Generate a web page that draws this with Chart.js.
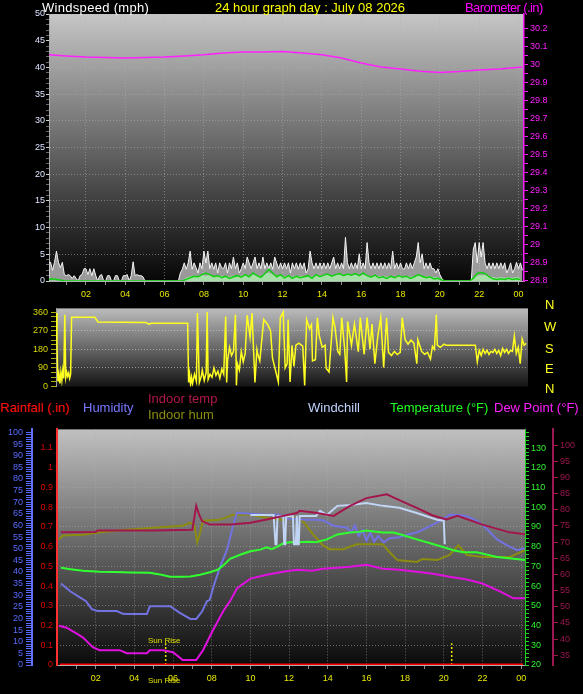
<!DOCTYPE html>
<html>
<head>
<meta charset="utf-8">
<script src="https://cdn.jsdelivr.net/npm/chart.js@4.4.1/dist/chart.umd.min.js"></script>
<style>
body { margin: 0; background: #000; width: 583px; height: 694px; overflow: hidden; position: relative; font-family: "Liberation Sans", Arial, sans-serif; }
canvas { position: absolute; left: 0; }
.lbl { position: absolute; font-size: 13px; line-height: 14px; white-space: nowrap; }
.sun { position: absolute; font-size: 8px; line-height: 9px; color: #e0e000; white-space: nowrap; }
</style>
</head>
<body>
<canvas id="windChart" width="583" height="300" style="top:0"></canvas>
<canvas id="dirChart" width="583" height="95" style="top:300px"></canvas>
<canvas id="weatherChart" width="583" height="274" style="top:420px"></canvas>

<div class="lbl" style="left:42px;top:1px;color:#ffffff;letter-spacing:0.3px">Windspeed (mph)</div>
<div class="lbl" style="left:215px;top:1px;color:#ffff00">24 hour graph day : July 08 2026</div>
<div class="lbl" style="left:465px;top:1px;color:#ff00ff;letter-spacing:-0.6px">Barometer (.in)</div>

<div class="lbl" style="left:545px;top:298px;color:#ffff20">N</div>
<div class="lbl" style="left:544px;top:320px;color:#ffff20">W</div>
<div class="lbl" style="left:545px;top:342px;color:#ffff20">S</div>
<div class="lbl" style="left:545px;top:362px;color:#ffff20">E</div>
<div class="lbl" style="left:545px;top:382px;color:#ffff20">N</div>

<div class="lbl" style="left:0px;top:401px;color:#ff1010">Rainfall (.in)</div>
<div class="lbl" style="left:83px;top:401px;color:#7878ff">Humidity</div>
<div class="lbl" style="left:148px;top:392px;color:#b0184a">Indoor temp</div>
<div class="lbl" style="left:148px;top:408px;color:#8c8c10">Indoor hum</div>
<div class="lbl" style="left:308px;top:401px;color:#c0d4ff">Windchill</div>
<div class="lbl" style="left:390px;top:401px;color:#20ff20">Temperature (°F)</div>
<div class="lbl" style="left:494px;top:401px;color:#ff20ff">Dew Point (°F)</div>

<div class="sun" style="left:148px;top:636px">Sun Rise</div>
<div class="sun" style="left:148px;top:676px">Sun Rise</div>

<script>
// ---- tick labels ----
const hourTicks = [2, 4, 6, 8, 10, 12, 14, 16, 18, 20, 22, 24];
const hourLabels = ['02', '04', '06', '08', '10', '12', '14', '16', '18', '20', '22', '00'];
const windTicks = [0, 5, 10, 15, 20, 25, 30, 35, 40, 45, 50];
const baroTicks = [28.8, 28.9, 29, 29.1, 29.2, 29.3, 29.4, 29.5, 29.6, 29.7, 29.8, 29.9, 30, 30.1, 30.2];
const dirTicks = [0, 90, 180, 270, 360];
const humTicks = [0, 5, 10, 15, 20, 25, 30, 35, 40, 45, 50, 55, 60, 65, 70, 75, 80, 85, 90, 95, 100];
const rainTicks = [0, 0.1, 0.2, 0.3, 0.4, 0.5, 0.6, 0.7, 0.8, 0.9, 1, 1.1];
const tempTicks = [20, 30, 40, 50, 60, 70, 80, 90, 100, 110, 120, 130];
const indoorTicks = [35, 40, 45, 50, 55, 60, 65, 70, 75, 80, 85, 90, 95, 100];

// ---- wind speed (mph), every 0.1 h from 0.1 h ----
const gustStart = 0.1, gustStep = 0.1;
const gustMph = [
  3.5, 3.5, 2.0, 3.5, 5.6, 3.5, 2.5, 3.5, 1.2,
  1.0, 1.2, 1.0, 0.5, 1.0, 0.5, 0.0, 1.0, 1.2, 2.3,
  2.3, 1.2, 2.3, 1.0, 2.3, 1.0, 0.0, 1.0, 1.2, 0.0,
  0.0, 1.0, 1.0, 0.0, 0.0, 1.0, 1.0, 0.0, 0.0, 1.0,
  1.0, 1.2, 0.0, 1.0, 3.6, 1.0, 1.2, 1.0, 1.0, 0.8,
  0, 0, 0, 0, 0, 0, 0, 0, 0, 0,
  0, 0, 0, 0, 0, 0, 0, 0, 1.5, 2.2,
  3.4, 2.2, 3.4, 5.6, 2.2, 3.4, 2.5, 1.5, 3.4, 2.3,
  5.6, 3.4, 5.6, 2.3, 3.4, 2.2, 3.4, 1.5, 3.4, 2.5,
  2.3, 3.4, 1.5, 3.4, 2.3, 4.5, 2.3, 3.4, 1.5, 2.3,
  3.4, 2.3, 4.5, 3.4, 2.3, 3.4, 4.5, 2.3, 3.4, 2.3,
  4.5, 2.3, 3.4, 2.3, 3.4, 2.2, 4.5, 3.4, 2.3, 3.4,
  2.3, 3.4, 2.3, 3.4, 1.5, 3.4, 2.3, 3.4, 2.2, 3.4,
  2.3, 3.4, 1.5, 2.3, 5.6, 3.4, 2.3, 3.4, 2.3, 3.4,
  2.3, 3.4, 2.3, 3.4, 2.3, 3.4, 4.5, 2.3, 3.4, 2.3,
  3.4, 2.3, 8.2, 3.4, 2.3, 3.4, 2.3, 3.4, 2.3, 5.1,
  2.3, 3.4, 2.3, 7.2, 3.4, 2.3, 3.4, 2.3, 3.4, 2.3,
  3.4, 2.3, 3.4, 2.3, 3.4, 2.3, 5.6, 2.3, 3.4, 2.3,
  3.4, 2.3, 2.2, 3.4, 2.3, 3.4, 2.3, 3.4, 4.5, 7.2,
  3.4, 5.1, 2.3, 3.4, 2.3, 3.4, 2.3, 2.3, 1.5, 2.3,
  1.2, 0.5, 0, 0, 0, 0, 0, 0, 0, 0,
  0, 0, 0, 0, 0, 0, 0, 5.9, 7.2, 3.4,
  7.2, 4.5, 7.2, 3.4, 2.3, 3.4, 2.3, 3.4, 2.3, 3.4,
  2.3, 3.4, 2.3, 3.4, 1.5, 2.3, 3.4, 1.5, 2.3, 3.5,
  2.3, 3.4, 2.0
];

// average speed and its filled band, every 0.2 h from 0.1 h
const avgStart = 0.1, avgStep = 0.2;
const avgMph = [
  0.3, 0.4, 0.3, 0.2, 0.0,
  0, 0, 0, 0, 0,   0, 0, 0, 0, 0,   0, 0, 0, 0, 0,
  0, 0, 0, 0, 0,   0, 0, 0, 0, 0,   0, 0, 0, 0, 0,
  0.3, 0.6, 0.9, 0.8, 1.2,
  1.5, 1.2, 0.8, 1.0, 0.6,
  0.9, 0.5, 0.8, 1.0, 0.7,
  1.2, 0.8, 1.5, 1.0, 0.7,
  1.4, 2.2, 1.5, 0.8, 1.2,
  0.6, 1.0, 0.5, 0.9, 0.6,
  0.8, 1.0, 0.5, 1.2, 0.8,
  1.1, 1.3, 0.9, 1.2, 1.4,
  1.0, 1.3, 1.1, 1.4, 1.0,
  1.5, 1.0, 0.7, 1.1, 0.6,
  0.8, 0.5, 0.9, 0.6, 1.0,
  0.7, 0.9, 0.5, 0.8, 1.2,
  0.9, 0.6, 0.8, 0.4, 0.5,
  0.2, 0, 0, 0, 0,
  0, 0, 0, 0.5, 1.4,
  1.6, 1.4, 0.8, 0.4, 0.3,
  0.4, 0.3, 0.5, 0.3, 0.4,
  0.3
];
const bandMph = [
  0, 0, 0, 0, 0,   0, 0, 0, 0, 0,   0, 0, 0, 0, 0,   0, 0, 0, 0, 0,
  0, 0, 0, 0, 0,   0, 0, 0, 0, 0,   0, 0, 0, 0, 0,
  0.5, 0.8, 0.9, 0.8, 1.0,
  0.9, 1.0, 0.8, 0.9, 0.8,
  0.8, 0.7, 0.9, 0.8, 0.9,
  1.0, 0.9, 1.1, 0.9, 0.8,
  1.2, 1.5, 1.1, 0.9, 0.9,
  0.8, 0.9, 0.7, 0.9, 0.8,
  0.8, 0.9, 0.7, 1.0, 0.9,
  1.0, 1.1, 0.9, 1.0, 1.1,
  0.9, 1.1, 1.0, 1.1, 0.9,
  1.1, 0.9, 0.8, 0.9, 0.8,
  0.8, 0.7, 0.8, 0.7, 0.9,
  0.8, 0.8, 0.7, 0.8, 0.9,
  0.8, 0.7, 0.8, 0.6, 0.6,
  0.2, 0, 0, 0, 0,
  0, 0, 0, 0.4, 0.9,
  1.0, 1.0, 0.8, 0.6, 0.5,
  0.6, 0.5, 0.6, 0.5, 0.6,
  0.5
];

// barometer [hour, inHg]
const baroIn = [
  [0.12, 30.053], [1, 30.047], [2, 30.041], [3, 30.039], [4, 30.036], [5, 30.039],
  [6, 30.041], [7, 30.047], [8, 30.053], [9, 30.064], [10, 30.069], [11, 30.069],
  [12, 30.072], [13, 30.064], [14, 30.053], [15, 30.036], [16, 30.008], [17, 29.986],
  [18, 29.975], [19, 29.962], [20, 29.955], [21, 29.96], [22, 29.969], [23, 29.975], [24.2, 29.986]
];

// wind direction [hour, degrees]
const windDir = [
  [0.1, 355], [0.15, 200], [0.2, 25], [0.25, 60], [0.3, 15], [0.35, 70], [0.4, 30], [0.45, 80],
  [0.5, 40], [0.55, 347], [0.6, 45], [0.65, 70], [0.7, 50], [0.75, 65], [0.8, 40], [0.85, 60],
  [0.9, 335], [2.1, 335], [2.25, 312], [4.7, 310], [4.85, 302], [5.0, 306], [6.85, 306],
  [6.9, 20], [6.95, 60], [7.0, 10], [7.05, 45], [7.1, 15], [7.2, 60], [7.3, 25], [7.35, 355],
  [7.45, 20], [7.55, 50], [7.6, 80], [7.7, 30], [7.8, 70], [7.85, 360], [7.9, 35], [8.0, 60],
  [8.1, 45], [8.2, 90], [8.3, 55], [8.4, 75], [8.5, 40], [8.6, 85], [8.7, 60], [8.8, 339],
  [8.85, 20], [8.9, 130], [9.0, 190], [9.1, 150], [9.2, 170], [9.3, 347], [9.35, 6], [9.4, 110],
  [9.5, 80], [9.6, 170], [9.7, 120], [9.8, 160], [9.9, 345], [10.05, 240], [10.15, 355],
  [10.3, 20], [10.4, 180], [10.45, 155], [10.55, 124], [10.75, 324], [10.95, 300], [11.1, 270],
  [11.2, 137], [11.35, 80], [11.5, 22], [11.6, 333], [11.75, 360], [11.85, 90], [11.95, 110],
  [12.0, 324], [12.1, 22], [12.2, 200], [12.3, 98], [12.4, 200], [12.55, 210], [12.75, 195],
  [12.85, 5], [12.95, 324], [13.1, 280], [13.2, 300], [13.25, 124], [13.4, 130], [13.5, 333],
  [13.6, 245], [13.75, 190], [13.9, 200], [13.95, 89], [14.1, 71], [14.3, 333], [14.4, 289],
  [14.55, 170], [14.65, 156], [14.75, 333], [14.9, 182], [15.0, 22], [15.05, 315], [15.25, 200],
  [15.4, 302], [15.6, 169], [15.7, 333], [15.9, 156], [16.05, 333], [16.2, 182], [16.3, 302],
  [16.45, 111], [16.6, 245], [16.75, 333], [16.9, 93], [17.05, 333], [17.15, 165], [17.3, 150],
  [17.45, 170], [17.6, 155], [17.75, 165], [17.85, 333], [18.0, 227], [18.15, 205], [18.3, 225],
  [18.45, 210], [18.6, 111], [18.65, 227], [18.85, 170], [19.0, 156], [19.15, 165], [19.3, 133],
  [19.4, 195], [19.5, 180], [19.6, 347], [19.65, 200], [19.8, 190], [20.0, 205], [20.1, 200],
  [21.6, 200], [21.7, 120], [21.8, 175], [21.9, 150], [22.0, 180], [22.1, 160], [22.2, 175],
  [22.3, 155], [22.4, 170], [22.5, 165], [22.6, 180], [22.7, 160], [22.8, 175], [22.9, 150],
  [23.0, 185], [23.1, 165], [23.2, 180], [23.3, 160], [23.4, 175], [23.5, 170], [23.6, 244],
  [23.7, 160], [23.8, 190], [23.9, 111], [24.0, 230], [24.1, 200], [24.2, 209]
];

// lower panel series [hour, value]
const temperatureF = [
  [0.2, 69.3], [0.7, 68.6], [1.35, 67.8], [2.2, 67.3], [3.0, 67.1], [3.8, 66.9], [4.8, 66.8],
  [5.4, 65.8], [5.85, 64.8], [6.4, 64.8], [6.9, 64.9], [7.4, 65.8], [7.9, 67], [8.3, 68.3],
  [8.6, 70.5], [8.95, 73.8], [9.5, 76], [10.0, 77.7], [10.5, 78.5], [10.85, 79.7], [11.1, 78.7],
  [11.4, 80], [11.7, 81.7], [12.05, 82.2], [12.5, 82.2], [13.0, 82.5], [13.4, 82.2], [13.95, 83.7],
  [14.5, 86.2], [15.15, 87.2], [15.6, 87.5], [16.0, 88.2], [16.4, 87.7], [16.85, 87.2], [17.4, 87.2],
  [18.0, 85.5], [18.6, 83.7], [19.3, 81.7], [20.0, 79.7], [20.5, 78.2], [21.0, 77.2], [21.7, 77.2],
  [22.2, 76], [22.75, 74.8], [23.5, 74], [24.2, 73.3]
];
const humidityPct = [
  [0.2, 35], [0.7, 31.6], [1.1, 29.5], [1.5, 27.4], [1.8, 24], [2.1, 23.2], [2.6, 23.2], [3.1, 23.2],
  [3.4, 22], [3.6, 21.9], [4.65, 21.9], [4.8, 25.3], [5.3, 25.3], [5.85, 25.3], [6.35, 22.4],
  [6.9, 19.8], [7.2, 19.8], [7.5, 23], [7.75, 27.4], [7.9, 28], [8.1, 34], [8.4, 41.4], [8.8, 49.8],
  [9.05, 58.2], [9.3, 65.4], [10.0, 65], [10.85, 64.6], [11.5, 64.6], [11.9, 63], [12.4, 62.8],
  [13.0, 62.4], [13.4, 62.4], [13.75, 62.2], [14.3, 59.9], [15.0, 59], [15.2, 57], [15.4, 60],
  [15.6, 55.5], [15.8, 58], [16.0, 53.5], [16.2, 57], [16.4, 53], [16.6, 55.5], [16.9, 52.7],
  [17.2, 54.5], [17.7, 54.9], [18.1, 56], [18.6, 57], [19.1, 59], [19.65, 61.2], [20.3, 64.6],
  [20.8, 64.5], [21.2, 64], [21.6, 62.5], [22.0, 60.3], [22.4, 57], [22.75, 54], [23.25, 51.5],
  [23.8, 49.4], [24.2, 50.2]
];
const dewPointF = [
  [0.1, 39.9], [0.5, 38.9], [1.0, 36], [1.35, 33.9], [1.85, 29], [2.2, 27.5], [3.25, 27.5],
  [3.6, 26], [4.65, 26], [4.8, 27.5], [5.5, 27.5], [6.0, 26.5], [6.5, 22.5], [7.2, 22.5],
  [7.55, 27.5], [8.05, 37.4], [8.6, 47.4], [8.95, 52.4], [9.3, 58.8], [10.0, 63.8], [10.85, 65.8],
  [11.7, 67.3], [12.4, 68.3], [13.2, 67.8], [13.75, 68.8], [14.5, 69.3], [15.15, 69.8], [16.0, 70.8],
  [16.85, 68.8], [17.7, 68.3], [18.6, 67.3], [19.45, 66.3], [20.3, 64.8], [21.2, 63.3], [22.0, 61.3],
  [22.9, 57.3], [23.6, 53.8], [24.2, 53.8]
];
const indoorTempF = [
  [0.2, 73.0], [2.0, 73.1], [2.1, 73.6], [5.0, 73.6], [7.0, 73.8], [7.2, 81.2], [7.35, 78.5],
  [7.5, 76.5], [7.9, 75.4], [9.0, 75.4], [10.0, 76.0], [10.85, 77.0], [11.7, 78.1], [12.4, 79.0],
  [12.55, 79.7], [13.45, 79.0], [14.3, 78.1], [15.15, 81.2], [16.0, 83.6], [17.05, 84.8],
  [17.7, 83.0], [18.6, 80.6], [19.4, 78.3], [20.15, 77.0], [20.7, 78.1], [22.0, 75.4],
  [23.4, 73.0], [24.2, 72.4]
];
const indoorHumPct = [
  [0.1, 54], [0.3, 55.7], [1.35, 56], [2.1, 57], [3.6, 58.2], [5.0, 59], [6.5, 59.9], [6.9, 61.2],
  [7.1, 60], [7.25, 52.7], [7.4, 57], [7.55, 62], [8.4, 62.4], [9.1, 64.6], [10.0, 64.6],
  [10.85, 63.3], [11.7, 62.4], [12.05, 64], [12.7, 62], [13.25, 56.1], [13.75, 51.5], [14.1, 49.8],
  [14.8, 49.8], [15.5, 51.9], [16.85, 51.9], [17.2, 48.5], [17.6, 45.1], [18.6, 44.3], [18.9, 45.6],
  [19.65, 45.1], [20.3, 47.3], [20.75, 51.5], [21.2, 47.3], [22.0, 46.4], [23.4, 46.4], [24.2, 49.4]
];
const windchillF = [
  [10.0, 78.4], [10.5, 78.4], [11.2, 78.4], [11.3, 69.3], [11.35, 69.3], [11.4, 78], [11.7, 78],
  [11.75, 69.3], [11.8, 69.3], [11.85, 78], [12.2, 78], [12.25, 69.3], [12.35, 69.3], [12.4, 78.1],
  [12.45, 69.3], [12.5, 69.3], [12.55, 78.1], [13.4, 78.1], [13.6, 79.7], [13.95, 78.4],
  [14.5, 81.2], [15.15, 81.5], [16.0, 82.1], [16.85, 81.2], [17.7, 80.6], [18.6, 79.0],
  [19.65, 76.9], [20.0, 76.6], [20.05, 69.3]
];
const rainfallIn = [[0.15, 0], [24.1, 0]];
const sunRiseHour = 5.62, sunSetHour = 20.41;

// ---- helpers ----
function pairs(list) { return list.map(p => ({ x: p[0], y: p[1] })); }
function series(start, step, values) { return values.map((v, i) => ({ x: start + i * step, y: v })); }
function near(a, b) { return Math.abs(a - b) < 1e-6; }
function labelFor(value, ticks, labels) {
  const i = ticks.findIndex(t => near(t, value));
  return i < 0 ? '' : String(labels ? labels[i] : ticks[i]);
}
function isTick(value, ticks) { return ticks.some(t => near(t, value)); }
function steps(from, to, step) {
  const out = [];
  for (let v = from; v <= to + 1e-9; v += step) out.push({ value: Math.round(v * 1000) / 1000 });
  return out;
}

const panelBg = {
  id: 'panelBg',
  beforeDraw(chart, args, opts) {
    const { ctx, chartArea: a } = chart;
    const g = ctx.createLinearGradient(0, a.top, 0, a.bottom);
    g.addColorStop(0, opts.top || '#c0c0c0');
    g.addColorStop(1, opts.bottom || '#080808');
    ctx.save();
    ctx.fillStyle = g;
    ctx.fillRect(a.left, a.top, a.right - a.left, a.bottom - a.top);
    ctx.restore();
  }
};
Chart.register(panelBg);
Chart.defaults.font.family = '"Liberation Sans", Arial, sans-serif';
Chart.defaults.font.size = 9;

const gridGray = 'rgba(175,175,175,0.55)';
const dots = [1, 2];

function hourAxis(min, max, height) {
  return {
    type: 'linear', min: min, max: max,
    afterBuildTicks: s => { s.ticks = steps(1, 24, 1); },
    afterFit: s => { s.height = height; },
    ticks: { color: '#e8e800', autoSkip: false, maxRotation: 0, padding: 4,
      callback: v => labelFor(v, hourTicks, hourLabels) },
    grid: { color: c => isTick(c.tick.value, hourTicks) ? gridGray : 'transparent',
      tickColor: '#8a8a8a', tickLength: 4 },
    border: { color: '#b0b0b0', dash: dots }
  };
}

// ---- top: wind speed + barometer ----
new Chart(document.getElementById('windChart'), {
  type: 'line',
  data: {
    datasets: [
      { label: 'Barometer', data: pairs(baroIn), yAxisID: 'yBaro', borderColor: '#ff20ff', borderWidth: 1.5 },
      { label: 'Average', data: series(avgStart, avgStep, avgMph), borderColor: '#10d010', borderWidth: 1.5 },
      { label: 'Average band', data: series(avgStart, avgStep, bandMph), borderColor: 'rgba(170,235,170,0.9)',
        backgroundColor: 'rgba(170,235,170,0.85)', borderWidth: 1, fill: 'origin' },
      { label: 'Gust', data: series(gustStart, gustStep, gustMph), borderColor: '#f4f4f4', borderWidth: 1,
        backgroundColor: 'rgba(215,215,215,0.7)', fill: 'origin' }
    ]
  },
  options: {
    responsive: false, animation: false,
    layout: { padding: { top: 14, left: 0, right: 0, bottom: 0 } },
    elements: { point: { radius: 0 }, line: { tension: 0 } },
    plugins: { legend: { display: false }, tooltip: { enabled: false }, panelBg: { top: '#c6c6c6', bottom: '#060606' } },
    scales: {
      x: hourAxis(0.12, 24.28, 19),
      y: {
        position: 'left', min: 0, max: 50,
        afterBuildTicks: s => { s.ticks = steps(0, 50, 1); },
        afterFit: s => { s.width = 49; },
        ticks: { color: '#dde4ff', autoSkip: false, padding: 1, callback: v => labelFor(v, windTicks) },
        grid: { color: c => (c.tick.value > 0 && isTick(c.tick.value, windTicks)) ? gridGray : 'transparent',
          tickColor: c => isTick(c.tick.value, windTicks) ? '#d0d0d0' : '#6a6a6a', tickLength: 3 },
        border: { color: '#a8a8a8', dash: dots }
      },
      yBaro: {
        position: 'right', min: 28.797, max: 30.28,
        afterBuildTicks: s => { s.ticks = steps(28.8, 30.2, 0.05); },
        afterFit: s => { s.width = 59; },
        ticks: { color: '#ff20ff', autoSkip: false, padding: 2, callback: v => labelFor(v, baroTicks) },
        grid: { drawOnChartArea: false, tickColor: '#ff20ff', tickLength: 4 },
        border: { color: '#ff20ff', width: 1.5 }
      }
    }
  }
});

// ---- middle: wind direction ----
new Chart(document.getElementById('dirChart'), {
  type: 'line',
  data: {
    datasets: [
      { label: 'Direction', data: pairs(windDir), borderColor: '#ffff20', borderWidth: 1.5 }
    ]
  },
  options: {
    responsive: false, animation: false,
    layout: { padding: { top: 5, left: 0, right: 55, bottom: 5 } },
    elements: { point: { radius: 0 }, line: { tension: 0 } },
    plugins: { legend: { display: false }, tooltip: { enabled: false }, panelBg: { top: '#bcbcbc', bottom: '#141414' } },
    scales: {
      x: { type: 'linear', min: 0.1, max: 24.3, display: false },
      y: {
        position: 'left', min: 0, max: 377.8,
        afterBuildTicks: s => { s.ticks = steps(0, 360, 22.5); },
        afterFit: s => { s.width = 56; },
        ticks: { color: '#d8d800', autoSkip: false, padding: 3, callback: v => labelFor(v, dirTicks) },
        grid: { color: c => (c.tick.value > 0 && c.tick.value < 360 && isTick(c.tick.value, dirTicks)) ? 'rgba(210,210,210,0.6)' : 'transparent',
          tickColor: '#b0b000', tickLength: 5 },
        border: { color: '#a0a0a0', dash: dots }
      }
    }
  }
});

// ---- bottom: temperatures, humidity, rain ----
new Chart(document.getElementById('weatherChart'), {
  type: 'line',
  data: {
    datasets: [
      { label: 'Rainfall', data: pairs(rainfallIn), yAxisID: 'yRain', borderColor: '#ff0000', borderWidth: 3 },
      { label: 'Indoor temp', data: pairs(indoorTempF), yAxisID: 'yIn', borderColor: '#a3164c', borderWidth: 2 },
      { label: 'Windchill', data: pairs(windchillF), yAxisID: 'yIn', borderColor: '#c0d4f4', borderWidth: 2 },
      { label: 'Temperature', data: pairs(temperatureF), yAxisID: 'yTemp', borderColor: '#30ff30', borderWidth: 2 },
      { label: 'Dew Point', data: pairs(dewPointF), yAxisID: 'yTemp', borderColor: '#e010e0', borderWidth: 2 },
      { label: 'Humidity', data: pairs(humidityPct), yAxisID: 'yHum', borderColor: '#7272e0', borderWidth: 2 },
      { label: 'Indoor hum', data: pairs(indoorHumPct), yAxisID: 'yHum', borderColor: '#8c8c10', borderWidth: 2 },
      { label: 'Sun Rise', data: [{ x: sunRiseHour, y: 0 }, { x: sunRiseHour, y: 0.11 }], yAxisID: 'yRain',
        borderColor: '#e8e800', borderWidth: 1.5, borderDash: [2, 2] },
      { label: 'Sun Set', data: [{ x: sunSetHour, y: 0 }, { x: sunSetHour, y: 0.11 }], yAxisID: 'yRain',
        borderColor: '#e8e800', borderWidth: 1.5, borderDash: [2, 2] }
    ]
  },
  options: {
    responsive: false, animation: false,
    layout: { padding: { top: 5, left: 0, right: 0, bottom: 0 } },
    elements: { point: { radius: 0 }, line: { tension: 0 } },
    plugins: { legend: { display: false }, tooltip: { enabled: false }, panelBg: { top: '#c0c0c0', bottom: '#0a0a0a' } },
    scales: {
      x: hourAxis(0, 24.2, 29),
      yRain: {
        position: 'left', weight: 0, min: 0, max: 1.194,
        afterBuildTicks: s => { s.ticks = rainTicks.map(v => ({ value: v })); },
        afterFit: s => { s.width = 25; },
        ticks: { color: '#e00000', autoSkip: false, padding: 4, callback: v => labelFor(v, rainTicks) },
        grid: { drawOnChartArea: false, drawTicks: false, tickLength: 0 },
        border: { color: '#ff3030', width: 2 }
      },
      yHum: {
        position: 'left', weight: 1, min: 0, max: 101.3,
        afterBuildTicks: s => { s.ticks = steps(0, 100, 1); },
        afterFit: s => { s.width = 32; },
        ticks: { color: '#5a6cff', autoSkip: false, padding: 3, callback: v => labelFor(v, humTicks) },
        grid: { drawOnChartArea: false, tickColor: '#5a6cff', tickLength: 6 },
        border: { color: '#6070ff', width: 2 }
      },
      yTemp: {
        position: 'right', weight: 0, min: 20, max: 139.46,
        afterBuildTicks: s => { s.ticks = steps(20, 138, 2); },
        afterFit: s => { s.width = 28; },
        ticks: { color: '#30f030', autoSkip: false, padding: 2, callback: v => labelFor(v, tempTicks) },
        grid: { color: c => (c.tick.value > 20 && isTick(c.tick.value, tempTicks)) ? gridGray : 'transparent',
          tickColor: '#20d020', tickLength: 4 },
        border: { color: '#20d020', dash: dots }
      },
      yIn: {
        position: 'right', weight: 1, min: 31.96, max: 104.86,
        afterBuildTicks: s => { s.ticks = indoorTicks.map(v => ({ value: v })); },
        afterFit: s => { s.width = 30; },
        ticks: { color: '#9c1850', autoSkip: false, padding: 2, callback: v => labelFor(v, indoorTicks) },
        grid: { drawOnChartArea: false, tickColor: '#9c1850', tickLength: 5 },
        border: { color: '#9c1850', width: 2 }
      }
    }
  }
});
</script>
</body>
</html>
